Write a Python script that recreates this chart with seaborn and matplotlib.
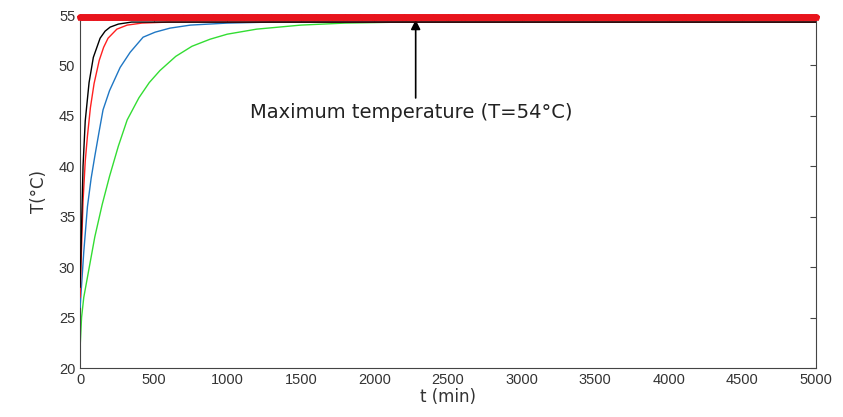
import matplotlib
matplotlib.use("Agg")
import matplotlib.pyplot as plt
import seaborn as sns
import numpy as np
import pandas as pd

# Data
t_black = [0, 10, 20, 35, 61, 90, 136, 170, 204, 260, 350, 5000]
T_black = [28, 34, 40, 44.5, 48.3, 50.8, 52.7, 53.4, 53.8, 54.1, 54.3, 54.3]

t_red = [0, 10, 20, 35, 50, 70, 95, 130, 160, 190, 250, 320, 420, 600, 5000]
T_red = [27, 32, 36.5, 40.5, 43, 45.8, 48.2, 50.5, 51.8, 52.7, 53.6, 54.0, 54.2, 54.3, 54.3]

t_blue = [0, 25, 50, 75, 100, 130, 156, 200, 272, 340, 428, 510, 611, 750, 1000, 1300, 5000]
T_blue = [26, 31.5, 36, 38.8, 41, 43.5, 45.6, 47.5, 49.8, 51.3, 52.8, 53.3, 53.7, 54.0, 54.2, 54.3, 54.3]

t_green = [0, 10, 25, 50, 75, 100, 150, 200, 260, 320, 400, 470, 543, 650, 760, 883,
           1000, 1200, 1500, 1800, 2200, 5000]
T_green = [22, 25, 27, 29, 31, 33, 36.2, 39, 42, 44.6, 46.8, 48.3, 49.5, 50.9, 51.9, 52.6,
           53.1, 53.6, 54.0, 54.2, 54.3, 54.3]

t_max = list(range(0, 5001, 100))
T_max = [54.8] * len(t_max)

max_label = "Maximum temperature (T=54°C)"
arrow_t = 2280
arrow_T_tail = 46.5
arrow_T_head = 54.8

sns.set_style("white")
plt.rcParams['font.family'] = ['Liberation Sans', 'DejaVu Sans']

fig = plt.figure(figsize=(8.43, 4.17), dpi=100)
ax = fig.add_axes([0.095, 0.1175, 0.873, 0.8465])

sns.lineplot(x=t_max, y=T_max, ax=ax, color="#e8141c", linewidth=5,
             marker="*", markersize=5, markeredgecolor="#e8141c", zorder=6, clip_on=False)
sns.lineplot(x=t_green, y=T_green, ax=ax, color="#33dd33", linewidth=1, zorder=2)
sns.lineplot(x=t_blue, y=T_blue, ax=ax, color="#1f77c4", linewidth=1, zorder=3)
sns.lineplot(x=t_red, y=T_red, ax=ax, color="#ff2020", linewidth=1, zorder=4)
sns.lineplot(x=t_black, y=T_black, ax=ax, color="black", linewidth=1, zorder=5)

ax.set_xlim(0, 5000)
ax.set_ylim(20, 55)
ax.set_xticks(np.arange(0, 5001, 500))
ax.set_yticks(np.arange(20, 56, 5))
ax.tick_params(direction="in", top=True, right=True, length=4, labelsize=10.5,
               labelcolor="#333333", color="#444444", width=0.8)
for s in ax.spines.values():
    s.set_color("#444444")
    s.set_linewidth(0.8)

ax.set_xlabel("t (min)", fontsize=12, color="#333333", labelpad=1,
              family=['DejaVu Sans'])
ax.set_ylabel("T(°C)", fontsize=12, color="#333333", labelpad=8,
              family=['DejaVu Sans'])

ax.annotate("", xy=(arrow_t, arrow_T_head), xytext=(arrow_t, arrow_T_tail),
            arrowprops=dict(arrowstyle="-|>", color="black", lw=1.2, mutation_scale=14))
ax.text(arrow_t - 30, arrow_T_tail - 0.2, max_label, ha="center", va="top",
        fontsize=14, color="#222222", family=['DejaVu Sans'])

fig.savefig("out.png", dpi=100)
